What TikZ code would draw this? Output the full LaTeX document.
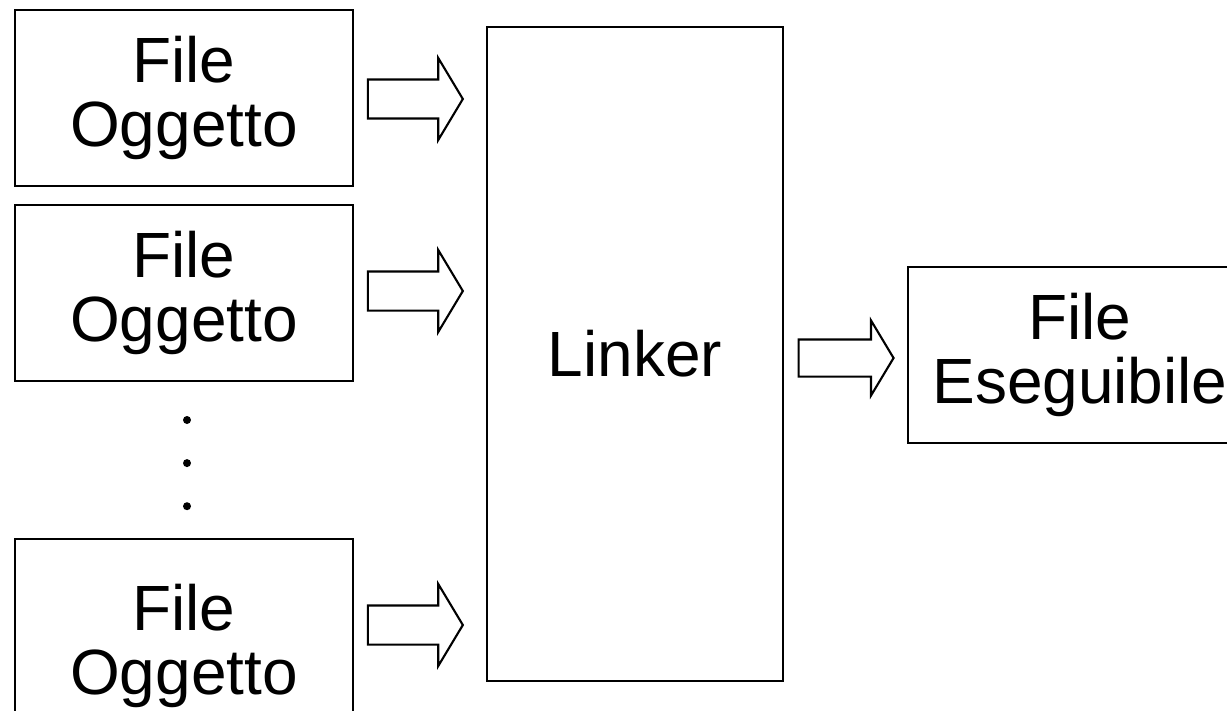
\documentclass[tikz,border=0pt]{standalone}
\usepackage{fontspec}
\setmainfont{Liberation Sans}
\usetikzlibrary{shapes.arrows,positioning}

\begin{document}
\begin{tikzpicture}[x=0.02cm,y=-0.02cm,line width=1.2pt,
  box/.style={draw,rectangle,inner sep=0pt,align=center,minimum width=6.76cm,
    minimum height=3.52cm,font=\fontsize{36.4}{36.4}\selectfont},
  fat arrow/.style={draw,single arrow,single arrow head extend=0.43cm,
    single arrow tip angle=118,minimum height=1.9cm,inner xsep=0pt,inner ysep=0.37cm},
  dot/.style={circle,fill,inner sep=0pt,minimum size=0.16cm}]

  \useasboundingbox (0,0) rectangle (1227,710);
  \clip (0,0) rectangle (1227,710);

  % object files
  \node[box] (obj1) at (184,98) {File\\Oggetto};
  \node[box] (obj2) [below=0.34cm of obj1] {File\\Oggetto};
  \node[box,minimum height=4.28cm] (objn) at (184,646) {File\\Oggetto};

  \node[dot] (d1) at (187,420) {};
  \node[dot] (d2) [below=0.66cm of d1] {};
  \node[dot] (d3) [below=0.66cm of d2] {};

  % linker and output
  \node[box,minimum width=5.92cm,minimum height=13.08cm] (linker) at (635,354) {Linker};
  \node[box,minimum width=6.88cm] (exe) at (1080,355) {File\\Eseguibile};

  \node[fat arrow] (a1) at (409.5,99) {};
  \node[fat arrow] (a2) at (409.5,291) {};
  \node[fat arrow] (a3) at (409.5,625) {};
  \node[fat arrow,inner ysep=0.35cm,single arrow head extend=0.38cm] (a4) at (840.5,358) {};
\end{tikzpicture}
\end{document}
